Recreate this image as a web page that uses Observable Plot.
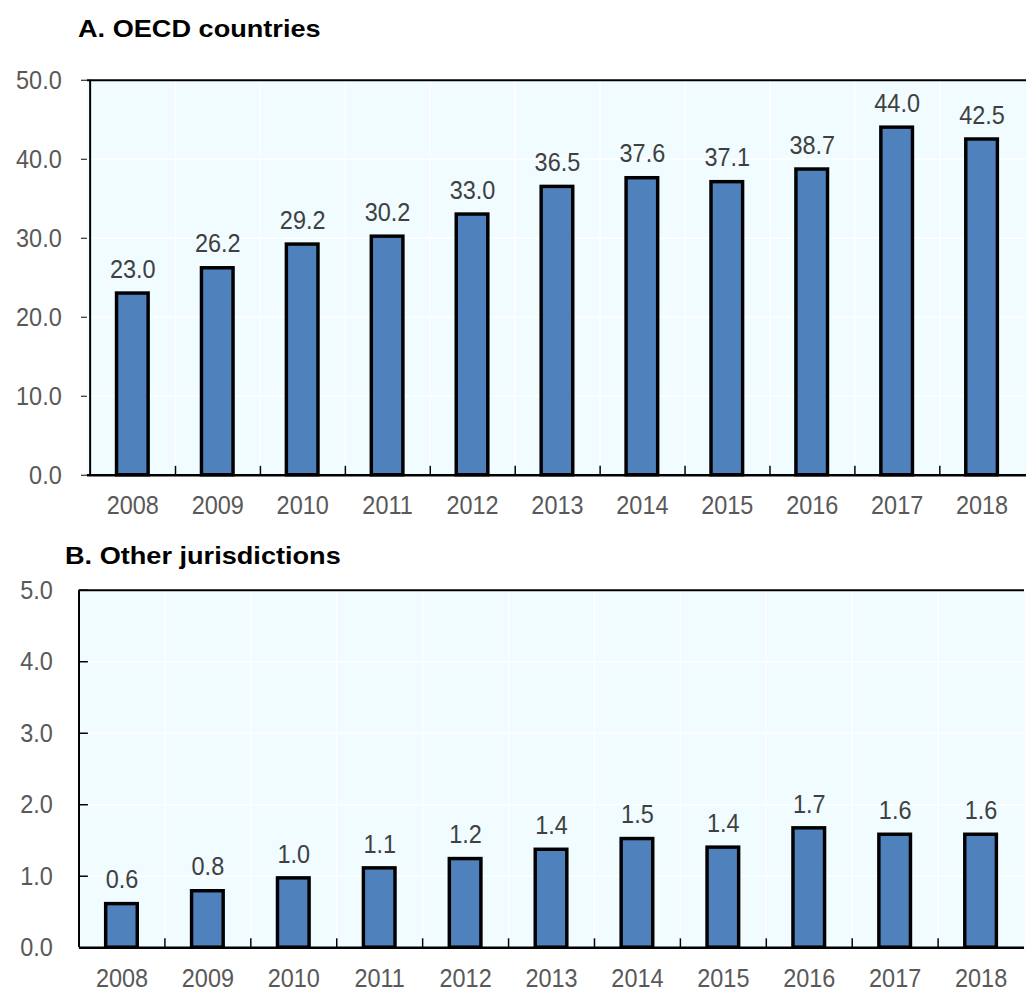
<!DOCTYPE html>
<html><head><meta charset="utf-8">
<script src="https://cdn.jsdelivr.net/npm/d3@7"></script>
<script src="https://cdn.jsdelivr.net/npm/@observablehq/plot@0.6"></script>
<style>
body{margin:0;background:#fff;overflow:hidden;width:1027px;height:992px;position:relative;}
.title{position:absolute;font-family:"Liberation Sans",Arial,sans-serif;font-weight:bold;font-size:24px;line-height:24px;color:#000;transform:scaleX(1.13);transform-origin:left top;white-space:nowrap;}
.panel{position:absolute;left:0;}
</style></head><body>
<div class="title" style="left:78px;top:17px">A. OECD countries</div>
<div id="pA" class="panel" style="top:60px"></div>
<div class="title" style="left:65px;top:544px">B. Other jurisdictions</div>
<div id="pB" class="panel" style="top:570px"></div>
<script>
const years = ["2008","2009","2010","2011","2012","2013","2014","2015","2016","2017","2018"];
const oecdValues = [23.0, 26.2, 29.2, 30.2, 33.0, 36.5, 37.6, 37.1, 38.7, 44.0, 42.5];
const otherValues = [0.61, 0.79, 0.97, 1.11, 1.24, 1.37, 1.52, 1.40, 1.67, 1.58, 1.58];
const oecdTicks = [0, 10, 20, 30, 40, 50];
const otherTicks = [0, 1, 2, 3, 4, 5];

const FONT = "'Liberation Sans',Arial,sans-serif";
const BG = "#F0FCFF";
const BAR = "#4F81BD";
const NARROW = 0.88;
const fmt = d3.format(".1f");

function narrowText(svg) {
  d3.select(svg).selectAll("text").each(function () {
    const t = d3.select(this);
    const x = +t.attr("x") || 0;
    const tr = t.attr("transform") || "";
    t.attr("transform", `${tr} translate(${x},0) scale(${NARROW},1) translate(${-x},0)`);
  });
  return svg;
}

function panel(values, ticks, opt) {
  const data = years.map((y, i) => ({year: y, value: values[i]}));
  const plotW = opt.width - opt.marginLeft - opt.marginRight;
  const plotH = opt.height - opt.marginTop - opt.marginBottom;
  const step = plotW / years.length;
  const yMax = ticks[ticks.length - 1];
  const marks = [
    Plot.frame({fill: BG, stroke: null}),
    Plot.ruleY(ticks.slice(1, -1), {stroke: "white", strokeWidth: 1.5}),
    Plot.ruleX(years.slice(0, -1), {dx: step / 2, stroke: "white", strokeWidth: 1.5}),
    Plot.ruleX(years.slice(0, -1), {dx: step / 2, stroke: "black", strokeWidth: 1.5, insetTop: plotH - 9}),
    Plot.ruleY([yMax], {stroke: "black", strokeWidth: 2}),
    Plot.ruleX([years[0]], {dx: -step / 2, stroke: "black", strokeWidth: 2}),
    Plot.axisX({tickSize: 0, tickPadding: opt.xPad, fontSize: 27, fill: "#595959", fontFamily: FONT}),
    opt.inward
      ? Plot.axisY({ticks, tickSize: 0, tickPadding: opt.yPad, tickFormat: fmt, fontSize: 27, fill: "#595959", fontFamily: FONT})
      : Plot.axisY({ticks, tickSize: 6, tickPadding: opt.yPad, tickFormat: fmt, fontSize: 27, fill: "#595959", stroke: "black", fontFamily: FONT}),
    opt.inward ? Plot.ruleY(ticks.slice(1), {stroke: "black", strokeWidth: 1.5, insetRight: plotW - 9}) : null,
    Plot.barY(data, {x: "year", y: "value", fill: BAR, stroke: "black", strokeWidth: 3.5}),
    Plot.ruleY([0], {stroke: "black", strokeWidth: 2.5}),
    Plot.text(data, {x: "year", y: "value", text: d => fmt(d.value), lineAnchor: "bottom", dy: -16, fontSize: 27, fill: "#404040", fontFamily: FONT})
  ].filter(Boolean);
  return narrowText(Plot.plot({
    width: opt.width, height: opt.height,
    marginLeft: opt.marginLeft, marginRight: opt.marginRight,
    marginTop: opt.marginTop, marginBottom: opt.marginBottom,
    style: {fontFamily: FONT, fontSize: "27px", background: "transparent", overflow: "visible"},
    x: {type: "band", domain: years, paddingInner: 0.63, paddingOuter: 0.315, label: null},
    y: {domain: [0, yMax], label: null},
    marks
  }));
}

document.getElementById("pA").append(panel(oecdValues, oecdTicks, {
  width: 1040, height: 465, marginLeft: 88, marginRight: 1, marginTop: 20, marginBottom: 45, xPad: 20, yPad: 20, inward: false
}));
document.getElementById("pB").append(panel(otherValues, otherTicks, {
  width: 1040, height: 422, marginLeft: 80, marginRight: 3, marginTop: 20, marginBottom: 40, xPad: 21, yPad: 27, inward: true
}));
</script>
</body></html>
